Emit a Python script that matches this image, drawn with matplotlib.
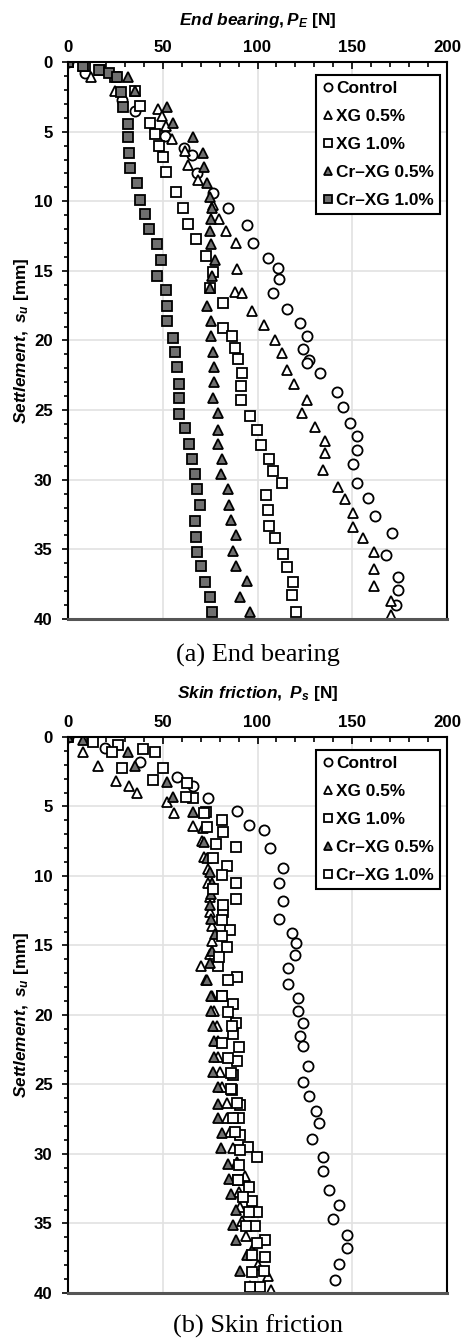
import numpy as np
import matplotlib.pyplot as plt
from matplotlib.ticker import MultipleLocator

plt.rcParams['font.family'] = 'Liberation Sans'
plt.rcParams['font.weight'] = 'bold'
plt.rcParams['mathtext.fontset'] = 'custom'
plt.rcParams['mathtext.it'] = 'Liberation Sans:bold:italic'
plt.rcParams['mathtext.rm'] = 'Liberation Sans:bold'
plt.rcParams['mathtext.bf'] = 'Liberation Sans:bold'

labels = ['Control', 'XG 0.5%', 'XG 1.0%', 'Cr\u2013XG 0.5%', 'Cr\u2013XG 1.0%']

# ---- (a) end bearing ----
ctl_e_s = [0, 0.8, 2.7, 3.5, 5.3, 6.2, 6.7, 8.0, 9.4, 10.5, 11.7, 13.0, 14.05, 14.8, 15.6, 16.6,
           17.75, 18.75, 19.65, 20.6, 21.4, 21.6, 22.3, 23.7, 24.8, 25.9, 26.85, 27.85, 28.9, 30.2,
           31.3, 32.6, 33.8, 35.4, 37.0, 37.9, 39.0]
ctl_e_p = [0, 9, 28.3, 35.4, 51.2, 61.4, 65.3, 67.9, 76.7, 84.6, 94.3, 97.5, 105.4, 111.0, 111.5, 108.3,
           115.4, 122.4, 126.0, 123.8, 127.3, 126.0, 133.0, 141.8, 145.3, 148.8, 152.3, 152.7, 150.6, 152.7,
           158.5, 162.0, 171, 168, 174, 174, 173]

xg05_e_s = [0, 1.1, 2.06, 3.4, 3.9, 4.6, 5.5, 6.4, 7.4, 8.5, 10.3, 11.3, 12.1, 13.0, 14.9, 16.5, 16.6,
            17.9, 18.9, 19.95, 20.9, 22.1, 23.1, 24.3, 25.2, 26.2, 27.2, 28.1, 29.3, 30.5, 31.4, 32.4,
            33.4, 34.2, 35.2, 36.4, 37.6, 38.7, 39.7]
xg05_e_p = [0, 12, 24.8, 47.7, 49.8, 51.7, 55.1, 61.7, 63.5, 68.8, 76.7, 79.8, 83.4, 88.7, 89.0, 88.1, 91.7,
            96.9, 103.6, 109.2, 112.8, 115.7, 119.3, 126.0, 123.3, 130.3, 135.6, 135.6, 134.7, 142.6, 146.2, 150.6,
            150.6, 155.8, 161.5, 161.5, 161.5, 170.3, 170.3]

xg10_e_s = [0, 0.3, 0.6, 1.1, 2.1, 3.16, 4.35, 5.2, 6.0, 6.8, 7.9, 9.3, 10.5, 11.6, 12.7, 13.9, 15.1,
            16.25, 17.3, 19.1, 19.7, 20.55, 21.35, 22.3, 23.3, 24.3, 25.4, 26.4, 27.5, 28.5, 29.4, 30.2,
            31.1, 32.2, 33.3, 34.2, 35.3, 36.3, 37.35, 38.3, 39.5]
xg10_e_p = [0, 9, 17, 25, 35.4, 38.0, 43.3, 45.9, 48.0, 50.0, 51.7, 57.0, 60.5, 63.2, 67.5, 72.8, 76.4,
            74.9, 81.6, 81.6, 86.4, 88.1, 89.9, 91.7, 91.3, 91.3, 96.0, 99.6, 101.8, 106.2, 108.3, 112.8,
            104.5, 105.4, 106.2, 109.2, 113.6, 115.7, 118.9, 118.0, 120.3]

cr05_s = [0, 0.25, 1.1, 2.06, 3.25, 4.35, 5.4, 6.55, 7.55, 8.7, 9.7, 10.5, 11.3, 12.1, 13.1, 14.2,
          15.4, 16.25, 17.5, 18.6, 19.7, 20.8, 21.9, 23.0, 24.1, 25.2, 26.4, 27.4, 28.5, 29.6, 30.7,
          31.8, 32.9, 34.0, 35.1, 36.2, 37.3, 38.4, 39.5]
cr05_p = [0, 8, 31.8, 35.4, 52.4, 55.2, 66.1, 71.4, 71.8, 73.2, 74.9, 75.8, 75.3, 74.9, 75.3, 77.6,
          75.8, 74.9, 73.2, 75.3, 75.5, 76.4, 77.2, 77.2, 76.4, 79.3, 79.3, 79.0, 81.1, 80.6, 84.3,
          85.0, 86.0, 88.7, 87.2, 88.5, 94.3, 90.8, 96.0]

cr10_e_s = [0, 0.26, 0.57, 0.81, 1.1, 2.13, 3.25, 4.45, 5.4, 6.55, 7.6, 8.7, 9.9, 10.9, 12.0, 13.1,
            14.2, 15.4, 16.4, 17.5, 18.6, 19.8, 20.8, 21.9, 23.1, 24.1, 25.3, 26.25, 27.4, 28.5, 29.6,
            30.7, 31.85, 33.0, 34.1, 35.2, 36.2, 37.35, 38.4, 39.5]
cr10_e_p = [0, 8.1, 16.5, 21.8, 26.0, 27.8, 29.2, 31.8, 31.8, 32.3, 32.7, 36.6, 38.0, 40.6, 42.9, 46.8,
            48.9, 47.1, 51.7, 52.1, 52.1, 55.2, 56.5, 57.4, 58.7, 58.6, 58.6, 61.7, 64.0, 65.6, 67.0,
            68.2, 69.7, 67.0, 67.5, 67.9, 70.0, 72.3, 74.9, 76.1]

# ---- (b) skin friction ----
ctl_s_s = [0, 0.81, 1.78, 2.86, 3.5, 4.37, 5.3, 6.3, 6.7, 8.0, 9.4, 10.5, 11.8, 13.1, 14.1, 14.8, 15.7,
           16.6, 17.8, 18.8, 19.7, 20.6, 21.5, 22.2, 23.7, 24.8, 25.8, 26.9, 27.8, 28.9, 30.2, 31.2,
           32.6, 33.7, 34.7, 35.8, 36.8, 37.9, 39.1]
ctl_s_p = [0, 19.5, 38, 57.4, 66.1, 74, 89, 95.7, 103.4, 106.6, 113.3, 111.3, 113.3, 111.3, 118.4, 120.1, 119.8,
           116.3, 116.3, 121.5, 121.5, 124.1, 122.2, 124.1, 126.9, 124.1, 127.3, 130.7, 132.2, 128.8, 134.5, 134.5,
           137.9, 142.9, 139.7, 147, 147, 143, 141]

xg05_s_s = [0, 1.1, 2.1, 3.2, 3.5, 4.0, 4.7, 5.5, 6.4, 7.5, 8.6, 9.5, 10.5, 11.5, 12.6, 13.6, 14.7,
            15.6, 16.5, 17.5, 18.6, 19.7, 20.8, 21.9, 23.0, 24.1, 25.2, 26.3, 27.4, 28.4, 29.6, 30.6,
            31.6, 32.7, 33.8, 34.8, 35.9, 36.9, 38.0, 38.8, 39.8]
xg05_s_p = [0, 7.7, 16, 25.3, 32.4, 36.2, 52.4, 56.1, 65.8, 70.5, 71.8, 73.7, 74, 75, 75, 76, 76,
            75, 70, 73, 76, 77, 78.5, 79, 79, 80, 81, 83.7, 84, 85.5, 87, 89,
            93.4, 90, 91, 92, 94, 96.9, 100, 105.7, 107]

xg10_s_s = [0, 0.6, 1.05, 2.2, 3.3, 4.4, 5.4, 6.0, 6.8, 7.9, 9.3, 10.5, 11.65, 12.6, 13.9, 15.1, 16.5,
            17.3, 18.6, 19.2, 20.6, 21.4, 22.3, 23.3, 24.3, 25.4, 26.5, 27.4, 28.6, 29.5, 30.2, 31.9,
            33.4, 34.2, 35.2, 36.2, 37.4, 38.4, 39.55]
xg10_s_p = [0, 26.6, 45.9, 50.3, 62.6, 65.8, 72.8, 81.1, 82, 88.7, 83.7, 88.7, 88.7, 82, 85.5, 83.7, 79.3,
            89, 81.1, 86.9, 88.7, 86.9, 90.4, 89, 87, 86.5, 90.8, 90.4, 90.8, 95.1, 99.9, 89.9,
            96.9, 99.9, 98.7, 104, 104, 103.4, 101.3]

cr10_s_s = [0.33, 0.89, 1.1, 2.2, 3.1, 4.3, 5.5, 6.45, 7.7, 8.7, 9.9, 10.9, 12.1, 13.2, 14.3, 15.8,
            17.5, 18.6, 19.8, 20.8, 22.0, 23.1, 24.2, 25.3, 26.35, 27.4, 28.4, 29.7, 30.8, 31.9, 32.35,
            33.1, 34.2, 35.2, 36.4, 37.3, 38.5, 39.55]
cr10_s_p = [13.4, 39.4, 23, 28.3, 44.7, 62.3, 72, 73.2, 78.1, 76.3, 81.1, 76.7, 82, 81.1, 81.4, 79.8,
            84.6, 81.1, 84.6, 86.4, 81.1, 84.6, 85.9, 85.9, 89, 86.9, 88, 90.8, 90.2, 89.9, 95.7,
            92.2, 95.7, 93.9, 99.6, 97, 96.9, 96]

gray = '#6f6f6f'
markers = ['o', '^', 's', '^', 's']

fig = plt.figure(figsize=(4.64, 13.4), dpi=100)
ax1 = fig.add_axes([0.1466, 0.5381, 0.8168, 0.4156])
ax2 = fig.add_axes([0.1466, 0.0351, 0.8168, 0.4149])

panels = [
    (ax1, [(ctl_e_p, ctl_e_s), (xg05_e_p, xg05_e_s), (xg10_e_p, xg10_e_s), (cr05_p, cr05_s), (cr10_e_p, cr10_e_s)],
     ['white', 'white', 'white', gray, gray], r'$End\ bearing,P_E$ [N]', '(a) End bearing', 0.985, 0.746, 0.511),
    (ax2, [(ctl_s_p, ctl_s_s), (xg05_s_p, xg05_s_s), (xg10_s_p, xg10_s_s), (cr05_p, cr05_s), (cr10_s_p, cr10_s_s)],
     ['white', 'white', 'white', gray, 'white'], r'$Skin\ friction,\ P_s$ [N]', '(b) Skin friction', 0.4828, 0.2425, 0.0105),
]

for ax, series, faces, title, caption, ty, ly, cy in panels:
    for (p, s), m, fc, lab in zip(series, markers, faces, labels):
        ax.plot(p, s, linestyle='none', marker=m, markersize=7.3, markerfacecolor=fc,
                markeredgecolor='black', markeredgewidth=1.3, label=lab)
    ax.set_xlim(0, 200)
    ax.set_ylim(40, 0)
    ax.xaxis.set_major_locator(MultipleLocator(50))
    ax.xaxis.set_minor_locator(MultipleLocator(10))
    ax.yaxis.set_major_locator(MultipleLocator(5))
    ax.yaxis.set_minor_locator(MultipleLocator(1))
    ax.set_axisbelow(True)
    ax.grid(True, which='major', color='#e2e2e2', linewidth=1.2)
    ax.tick_params(axis='x', which='both', direction='in', top=True, bottom=False,
                   labeltop=True, labelbottom=False, labelsize=12.2, pad=5, width=1.2)
    ax.tick_params(axis='x', which='major', length=5)
    ax.tick_params(axis='x', which='minor', length=3.5)
    ax.tick_params(axis='y', which='both', direction='out', labelsize=12.2, pad=7, width=1.2)
    ax.tick_params(axis='y', which='major', length=4)
    ax.tick_params(axis='y', which='minor', length=3)
    for side in ['top', 'left', 'right']:
        ax.spines[side].set_linewidth(1.5)
        ax.spines[side].set_color('black')
    ax.spines['bottom'].set_linewidth(2.2)
    ax.spines['bottom'].set_color('#555555')
    leg = ax.legend(loc='upper right', bbox_to_anchor=(0.982, 0.977), fontsize=12.4,
                    frameon=True, fancybox=False, edgecolor='black', framealpha=1,
                    handlelength=0.6, handletextpad=0.2, labelspacing=0.75,
                    borderpad=0.35, borderaxespad=0, markerscale=0.8)
    leg.get_frame().set_linewidth(1.5)
    fig.text(0.555, ty, title, ha='center', va='center', fontsize=12.4)
    fig.text(0.047, ly, r'$Settlement,\ s_u$ [mm]', rotation=90, ha='center', va='center', fontsize=12.4)
    fig.text(0.555, cy, caption, ha='center', va='center', fontsize=19,
             family='Liberation Serif', fontweight='normal')

fig.savefig('out.png', dpi=100)
